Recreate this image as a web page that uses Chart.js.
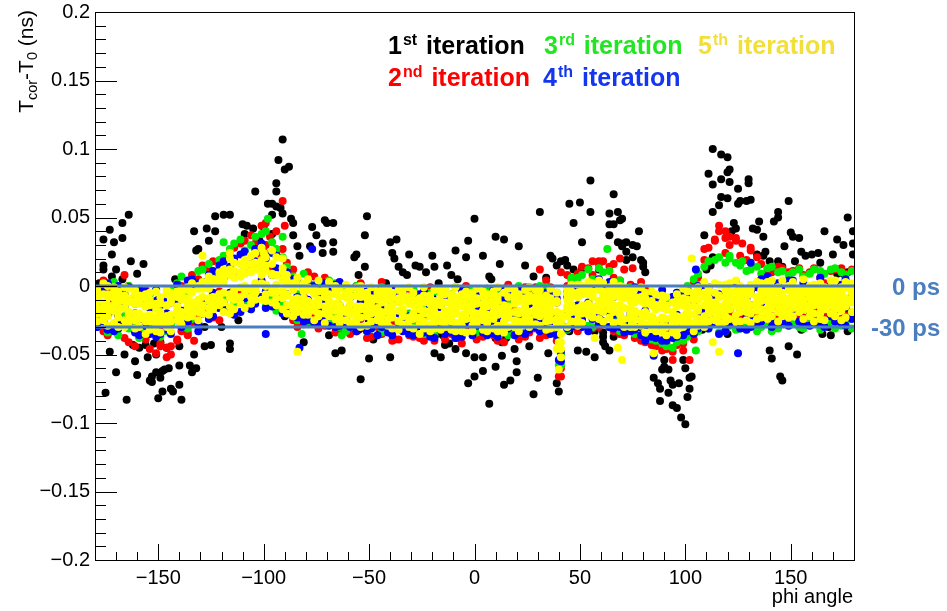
<!DOCTYPE html>
<html>
<head>
<meta charset="utf-8">
<title>Tcor - T0 vs phi</title>
<script src="https://cdn.jsdelivr.net/npm/chart.js@4.4.1/dist/chart.umd.min.js"></script>
<style>
  body { margin: 0; background: #fff; }
  canvas { display: block; }
</style>
</head>
<body>
<canvas id="phiChart" width="947" height="611"></canvas>
<script>
// time offsets are kept in ps, the axis is in ns
const phiBins = [
  -179,-176,-174,-171,-169,-166,-164,-161,-159,-156,-154,-151,
  -149,-146,-144,-141,-139,-136,-134,-131,-129,-126,-124,-121,
  -119,-116,-114,-111,-109,-106,-104,-101,-99,-96,-94,-91,
  -89,-86,-84,-81,-79,-76,-74,-71,-69,-66,-64,-61,
  -59,-56,-54,-51,-49,-46,-44,-41,-39,-36,-34,-31,
  -29,-26,-24,-21,-19,-16,-14,-11,-9,-6,-4,-1,
  1,4,6,9,11,14,16,19,21,24,26,29,
  31,34,36,39,41,44,46,49,51,54,56,59,
  61,64,66,69,71,74,76,79,81,84,86,89,
  91,94,96,99,101,104,106,109,111,114,116,119,
  121,124,126,129,131,134,136,139,141,144,146,149,
  151,154,156,159,161,164,166,169,171,174,176,179
];

// 1st iteration: scattered crystals
const blackPoints = [
  [-94,75],[-104,69],[-98,60],[-96,60],[-92,57],[-91,53],[-96,52],[-164,52],[-167,46],[-173,41],[-176,34],[-171,32],
  [-167,35],[-172,23],[-176,15],[-176,12],[-170,12],[-172,7],[-167,5],[-163,18],[-157,16],[-160,9],[-123,51],[-119,52],
  [-116,52],[-127,42],[-123,40],[-133,40],[-126,33],[-131,27],[-132,26],[-110,45],[-108,44],[-109,38],[-105,42],[-100,43],
  [-102,33],[-96,38],
  [-162,-43],[-159,-45],[-166,-50],[-173,-48],[-161,-55],[-170,-63],[-160,-65],[-175,-78],[-165,-83],[-156,-43],[-152,-42],
  [-155,-52],[-151,-50],[-149,-41],[-146,-45],[-140,-44],[-147,-61],[-148,-62],[-145,-60],[-151,-63],[-153,-66],[-154,-69],
  [-153,-70],[-149,-67],[-148,-77],[-144,-75],[-143,-77],[-140,-72],[-150,-82],[-139,-83],[-133,-50],[-140,-58],[-135,-58],
  [-132,-60],[-134,-63],[-128,-44],[-125,-43],[-116,-42],[-116,-46],
  [-91,107],[-93,92],[-90,85],[-88,87],[-94,69],[-94,58],[-87,49],[-86,46],[-71,48],[-70,46],[-67,46],[-77,43],[-75,37],
  [-86,37],[-72,31],[-67,32],[-67,25],[-72,24],[-84,29],[-83,22],[-78,29],[-51,51],[-52,37],[-56,23],[-57,21],[-52,14],
  [-55,8],[-40,32],[-37,34],[-39,24],[-38,20],[-31,23],[-36,14],[-34,10],[-32,8],[-28,15],[-26,14],[-23,10],[-20,22],
  [-19,14],[-13,15],[-17,2],[-16,-5],
  [-81,-41],[-66,-49],[-63,-47],[-69,-36],[-74,-25],[-54,-68],[-50,-53],[-48,-39],[-55,-32],[-52,-31],[-40,-52],[-38,-39],
  [-19,-49],[-16,-52],[-18,-35],[-15,-36],[-14,-43],[-12,-42],[-50,-26],
  [55,77],[66,67],[45,60],[50,61],[55,54],[64,53],[68,54],[47,46],[64,45],[66,45],[69,48],[70,49],[64,37],[68,32],[70,31],
  [72,32],[70,29],[75,30],[78,40],[72,25],[51,32],[31,54],[21,29],[10,36],[14,34],[0,49],[-3,33],[-9,26],[-4,21],[4,22],
  [12,16],[-11,8],[-8,5],[7,7],[8,5],[24,15],[36,22],[37,20],[39,15],[41,18],[43,19],[44,15],[47,12],[28,7],[34,6],
  [51,13],[59,12],[72,19],[75,21],[77,29],
  [7,-86],[-3,-71],[0,-66],[4,-62],[10,-59],[13,-51],[14,-72],[17,-69],[20,-55],[20,-63],[28,-79],[30,-67],[19,-46],
  [26,-44],[-4,-49],[0,-52],[4,-52],[13,-41],[10,-38],[-9,-46],[-7,-38],[35,-49],[39,-71],[40,-77],[49,-47],[53,-48],
  [57,-52],[64,-47],[57,-33],[61,-34],[61,-37],[61,-41],[62,-44],[66,-37],[71,-34],[19,-32],[31,-32],
  [113,100],[117,96],[120,94],[111,82],[113,74],[117,78],[120,83],[121,85],[121,76],[125,71],[130,78],[130,75],[117,65],
  [120,64],[116,59],[113,54],[125,60],[129,62],[131,63],[126,62],[149,62],[144,54],[144,50],[142,47],[135,47],[123,46],
  [124,42],[122,40],[109,37],[132,42],[134,41],[137,36],[150,39],[151,36],[154,35],[147,29],[166,40],[172,34],[175,30],
  [177,50],[179.5,40],[179.5,31],[179.5,23],[113,21],[110,12],[112,15],[134,23],[137,22],[138,25],[140,18],[144,18],
  [146,14],[152,18],[155,25],[157,22],[160,23],[163,24],[164,17],[170,23],[172,9],[175,9],[177,10],[79,19],[80,17],
  [80,14],[81,10],
  [90,-59],[92,-61],[89,-61],[100,-60],[102,-67],[103,-66],[85,-67],[87,-71],[88,-75],[93,-69],[94,-72],[97,-71],
  [88,-84],[92,-78],[94,-87],[96,-89],[98,-96],[100,-101],[101,-81],[102,-75],[90,-54],[99,-54],[140,-47],[141,-53],
  [145,-66],[146,-69],[149,-44],[153,-50],[163,-28],[165,-35],[168,-26],[169,-36],[177,-33],[177,-19],
  [-178,-20],[-168,-28],[-150,-10],[-128,-30],[-112,-25],[-90,-22],[-75,-28],[-60,-5],[-45,-35],[-30,-25],[-20,-8],
  [-5,-28],[8,-30],[22,-5],[35,-28],[48,-6],[60,-25],[78,-30],[95,-10],[108,-32],[128,-5],[140,-28],[150,-3],[160,-12],
  [168,-30],[175,-15],[179,-8],[-178,2],[-142,5],[-120,-30],[-65,-2],[-42,2],[-10,-35],[15,-38],[45,-33],[85,-40],
  [120,-35],[135,-30],[155,-32]
];

// 2nd iteration
const red1 = [
  -26,4,-36,-12,-31,8,-41,-20,-34,-3,-46,-27,
  -44,-20,-50,-6,-33,-15,-27,5,-20,12,-23,-4,
  20,-16,28,-6,33,-13,16,44,30,-10,25,-17,
  17,-25,4,-28,10,-20,-31,6,-14,-34,2,-23,
  -35,0,-24,-38,-6,-30,3,-22,-40,-8,-28,-2,
  -3,-38,-22,-1,-40,-27,-6,-35,-10,-42,0,-30,
  -39,-12,-2,-36,-25,-41,1,-30,-8,-37,-20,-1,
  -22,-36,-1,-40,-66,-30,5,-33,14,-18,-31,16,
  18,-30,6,-35,12,-22,-38,3,-41,-9,-44,-30,
  -46,-11,-43,-36,-2,-39,6,-28,28,-20,40,35,
  30,-24,22,-6,26,-22,16,-25,10,-21,13,-19,
  11,-22,8,-18,13,-25,2,-20,12,-24,9,-21
];
const red2 = [
  -8,-33,-2,-28,-19,-38,0,-44,-24,-39,-11,-49,
  -31,-45,-12,-39,0,-34,8,-22,15,-14,18,-25,
  -12,24,-3,31,-8,37,-4,22,46,12,-15,27,
  -20,12,-30,-8,-27,7,-3,-29,3,-19,-33,-4,
  -15,-33,2,-20,-37,-12,-35,-3,-26,-39,-4,-36,
  -37,-8,-40,-31,-14,-2,-39,-21,-38,-4,-33,-13,
  -6,-37,-33,-9,-40,-3,-35,-18,-39,-1,-34,-31,
  -38,4,-33,-12,-60,0,-28,9,-24,13,8,-30,
  -28,14,-33,4,-36,1,-8,-40,-3,-43,-12,-47,
  -33,-48,-8,-42,-33,2,-31,19,-30,34,-27,24,
  -20,33,-23,19,-14,21,-26,12,-22,14,-18,10,
  -19,13,-23,10,-16,6,-22,11,-12,13,-20,12
];
const redExtra = [
  [116,44],[119,40],[121,36],[114,33],[124,35],[127,31],[131,28],[109,27],[-91,62],[-90,44],[-94,40],[-97,36],
  [-104,31],[-100,25],[-146,-52],[-144,-44],[-141,-40],[-149,-42],[-136,-36],[-133,-40],[-159,-37],[-175,-33],
  [94,-54],[99,-47],[102,-54],[91,-42],[96,-40],[40,-66],[31,12],[41,10],[44,8],[56,18],[59,18],[69,20],[75,13],[66,16]
];

// 3rd iteration
const green1 = [
  -30,-1,-19,-8,-36,-22,0,-27,-11,-33,-6,-24,
  -37,-9,-28,2,-20,-31,5,-18,12,-22,8,-16,
  22,-16,31,-8,26,-17,36,14,40,-10,27,-13,
  14,-22,-6,9,-26,1,-15,-24,4,-20,-30,-2,
  -30,0,-22,-33,-5,-27,-1,-19,-34,-4,-25,-35,
  -3,-33,-14,-5,-36,-24,-8,-30,-1,-27,-11,-34,
  -34,-6,-26,-35,-2,-29,-12,-33,0,-24,-31,-6,
  -31,-1,-22,-35,-50,-4,-29,6,-27,12,-30,13,
  10,-30,3,-33,-2,-24,-35,-2,-38,-7,-40,-11,
  -44,-8,-41,-3,-37,5,-33,14,-31,19,-34,17,
  20,-32,15,-29,12,-33,9,-28,14,-31,11,-26,
  10,-30,7,-26,12,-32,9,-27,13,-29,8,-31
];
const green2 = [
  -6,-24,-34,3,-12,-2,-31,-13,-38,-9,-29,-3,
  -14,-33,-3,-25,7,-6,-24,11,-19,16,-14,19,
  -9,27,-13,34,-11,30,-4,38,-15,32,-18,21,
  -18,7,-25,-12,3,-28,-1,-9,-27,2,-14,-33,
  -6,-28,-3,-16,-31,-9,-34,-6,-11,-27,-2,-20,
  -29,-8,-35,-22,-4,-31,-19,-6,-33,-9,-28,-3,
  -5,-31,-2,-21,-34,-8,-36,-4,-27,-34,-3,-29,
  0,-28,-34,-5,-58,-32,3,-23,8,-29,5,-25,
  -27,11,-26,4,-32,-1,-8,-36,-5,-39,-15,-42,
  -12,-45,-5,-40,0,-35,9,-30,18,-28,21,-33,
  -29,17,-31,11,-27,14,-30,13,-33,10,-28,8,
  -28,12,-31,9,-25,11,-29,12,-31,10,-27,11
];
const greenExtra = [
  [-98,49],[-91,36],[-119,32],[63,27],[46,6],[-63,-36],[-82,-35],[105,-47],[40,-58],[121,22],[127,18]
];

// 4th iteration
const blue1 = [
  -30,-4,-21,-33,0,-15,-28,-8,-36,-12,-25,-3,
  -35,-9,-24,1,-30,-16,-2,-27,-10,8,-22,6,
  18,-18,9,-12,25,-6,27,-8,20,-15,13,-20,
  10,-21,-8,-26,4,-13,-28,2,-19,-30,3,-24,
  -30,-1,-22,-33,-6,-27,-2,-34,-13,-31,-4,-22,
  -36,-6,-27,-15,-38,-2,-22,-34,-10,-37,-4,-26,
  -5,-34,-18,-3,-37,-9,-31,-24,-2,-35,-13,-30,
  -33,-5,-27,-36,-55,-8,-30,-2,-25,-33,1,-28,
  -26,3,-21,-30,-2,-33,-10,-36,-18,-7,-38,-14,
  -40,-8,-37,-28,-6,-35,-20,-30,-1,-27,-22,-33,
  -28,3,-19,-32,-4,-27,5,-22,-30,2,-26,-11,
  4,-26,-10,-29,-1,-21,-30,3,-18,-27,5,-24
];
const blue2 = [
  -9,-26,2,-18,-31,-6,-11,-34,-2,-29,-16,-37,
  -14,-32,-6,-25,-8,4,-21,2,-19,-13,11,-16,
  -15,14,-21,23,-9,16,-13,31,-4,24,-11,9,
  -18,5,-23,-2,-25,0,-7,-24,-4,-14,-29,-7,
  -8,-26,-3,-18,-31,-11,-30,-9,-36,-6,-26,-35,
  -10,-30,-3,-37,-12,-25,-35,-7,-31,-14,-28,-36,
  -29,-11,-36,-27,-14,-33,-4,-36,-22,-8,-32,-6,
  -10,-29,-4,-21,-48,-31,-6,-27,-3,-12,-24,5,
  0,-19,-31,-6,-27,-9,-32,-4,-29,-37,-12,-40,
  -14,-38,-21,-4,-33,-11,-31,-3,-26,-7,-35,0,
  -5,-24,-31,-9,-22,-1,-26,-8,-14,-27,-3,-29,
  -20,-5,-28,-12,-25,6,-15,-22,-3,-10,-29,-6
];
const blue3 = [
  -19,-14,-32,-5,-22,-27,-1,-20,-24,-4,-35,-11,
  -27,-20,-35,-11,-18,-26,5,-15,3,-24,-5,15,
  6,-5,20,-19,12,-17,18,4,-16,8,22,-6,
  -6,-13,3,-17,-10,-27,-16,-12,-29,1,-15,-28,
  -18,-33,-12,-4,-21,-36,-17,-24,-3,-20,-33,-9,
  -24,-19,-34,-8,-29,-16,-9,-26,-38,-3,-21,-13,
  -17,-26,-7,-35,-24,-2,-19,-11,-34,-27,-1,-23,
  -24,-17,-35,-9,-28,-19,-21,-14,-30,0,-17,-20,
  -15,-30,-8,-22,-34,-20,-1,-24,-40,-23,-27,-3,
  -28,-25,-5,-36,-20,-28,0,-18,-31,-20,-6,-15,
  -17,-12,-2,-23,-30,-14,-13,7,-25,-15,-20,4,
  -9,-17,2,-19,-8,-28,-4,-11,-26,1,-16,-20
];
const blueExtra = [
  [125,-49],[40,-54],[-83,-45],[90,-36],[85,-51],[105,12],[131,17],[-77,27],[-99,-35],[-131,-33]
];

// 5th iteration
const yellow1 = [
  -3,-22,-8,-27,-15,-1,-24,-11,-30,-6,-21,-13,
  -8,-30,-12,-25,-2,-18,-22,0,-14,7,-17,-6,
  12,-15,6,-8,19,-3,24,-10,15,-5,21,-9,
  8,-17,1,-21,-3,-25,4,-15,-22,0,-27,-5,
  -2,-24,-8,-29,-16,-4,-27,-10,-31,-18,-6,-23,
  -5,-28,-12,-33,-19,-3,-30,-14,-8,-25,-34,-10,
  -28,-4,-22,-31,-8,-26,-2,-19,-33,-10,-24,-3,
  -3,-26,-9,-30,-41,-22,1,-25,-6,-21,2,-18,
  2,-23,-4,-26,-1,-20,-30,-8,-28,-11,-33,-7,
  -8,-34,-15,-30,-4,-27,-1,-22,-26,2,-20,-3,
  2,-21,-6,-25,1,-18,-3,-24,4,-14,-22,0,
  3,-19,-2,-22,1,-15,-25,-4,4,-18,-9,2
];
const yellow2 = [
  -20,-6,-29,-14,-4,-25,-9,-31,-13,-26,-10,-33,
  -27,-14,-33,-4,-19,-1,-12,-19,3,-11,-8,10,
  -12,8,-17,16,-6,22,-2,14,-11,26,-4,13,
  -14,2,-19,-9,5,-12,-20,-2,-6,-24,-8,-19,
  -21,-7,-30,-14,-1,-25,-12,-29,-5,-9,-28,-13,
  -24,-9,-31,-7,-27,-21,-2,-26,-33,-6,-15,-29,
  -9,-25,-33,-12,-29,-5,-23,-30,-6,-27,-1,-21,
  -22,-7,-31,-12,-20,-2,-19,-8,-27,3,-15,-3,
  -19,-1,-27,-5,-24,-3,-12,-29,-5,-31,-14,-34,
  -30,-12,-36,-9,-28,-8,-24,-5,-1,-25,-7,-22,
  -17,-4,-26,-2,-20,-8,-23,3,-12,-1,-5,-19,
  -16,-3,-24,-8,-20,2,-11,-20,-13,-1,-23,-12
];
const yellow3 = [
  -11,-17,0,-9,-23,-16,-2,-20,-7,-15,-32,-4,
  -19,-3,-21,-15,-28,-9,2,-10,-20,-2,5,-14,
  3,-20,17,-1,9,-13,12,28,0,9,-14,5,
  1,-10,-12,2,-17,-2,-14,-27,3,-13,-2,-25,
  -13,-19,0,-22,-26,-10,-3,-19,-14,-32,-17,-1,
  -14,-35,-1,-22,-11,-32,-18,-6,-20,-29,-4,-19,
  -20,-13,-6,-24,-1,-34,-15,-7,-18,-3,-30,-12,
  -13,-32,-2,-24,-46,-30,-8,-29,0,-14,-23,4,
  -10,-15,3,-18,-9,-30,-2,-20,-34,-4,-25,-16,
  -17,-27,-6,-22,-14,-33,-10,-30,-16,-12,1,-17,
  -9,-15,0,-13,-27,3,-11,-16,-22,-19,4,-9,
  -6,-12,5,-14,-9,-24,-1,-14,-22,-10,3,-19
];
const yellow4 = [
  -26,2,-18,-4,-9,-30,-19,-6,-24,-35,-14,-24,
  -34,-22,-5,-20,-10,-23,-16,-25,-8,-16,-12,3,
  -19,20,-6,7,-16,11,-10,2,21,-12,8,-17,
  -20,-22,6,-16,-11,-18,-4,-8,-15,-5,-18,1,
  -27,-1,-17,-5,-9,-20,-22,-2,-23,-3,-11,-30,
  -31,-17,-20,-13,-3,-12,-25,-32,-1,-15,-24,-5,
  -2,-32,-15,-4,-21,-14,-30,-11,-26,-20,-11,-28,
  -29,-15,-20,-5,-27,-10,-26,1,-17,-6,-8,-24,
  -26,-9,-14,0,-30,-11,-24,-1,-13,-24,-6,-29,
  -36,-19,-26,-2,-22,-15,-18,3,-9,-20,-27,-8,
  -24,4,-14,-19,-6,-24,2,-6,-2,-26,-15,-23,
  -22,-2,-10,0,-26,-7,-17,4,-6,-25,-15,-5
];
const yellow5 = [
  -16,-12,-22,-1,-19,-8,-12,-25,-20,-9,-26,-17,
  -13,-25,-9,-8,-23,-13,-5,-14,-2,-21,2,-9,
  -5,12,-10,10,14,-8,17,8,-6,16,1,-4,
  -7,-12,-15,-4,-21,-6,-10,-20,-11,-18,-14,-8,
  -18,-15,-4,-19,-20,-16,-8,-24,-19,-12,-22,-25,
  -20,-13,-26,-18,-31,-7,-12,-22,-27,-11,-20,-33,
  -13,-20,-27,-9,-16,-30,-8,-25,-11,-15,-26,-8,
  -18,-21,-14,-19,-35,-17,-4,-16,-20,-2,-19,-13,
  -14,-17,-19,-8,-16,-6,-20,-11,-22,-14,-29,-24,
  -24,-23,-11,-14,-25,-5,-29,-14,-20,-5,-15,-26,
  -13,-10,-19,-6,-14,-15,-17,-1,-7,-10,-18,-3,
  -11,-8,-17,-4,-14,-11,-5,-9,-17,-5,-12,-1
];
const yellow6 = [
  -6,-25,-14,-18,-30,-11,-27,-3,-11,-22,-5,-28,
  -24,-6,-26,-19,-6,-3,-20,-2,-15,4,-15,6,
  8,-8,11,-13,-2,16,-5,19,11,-3,-9,10,
  4,-3,-9,-13,-1,-14,-22,-6,-19,-2,-23,-17,
  -7,-28,-23,-9,-10,-6,-19,-6,-9,-26,-3,-8,
  -10,-23,-7,-28,-15,-26,-6,-18,-12,-33,-8,-14,
  -24,-8,-11,-19,-33,-21,-19,-3,-29,-24,-7,-17,
  -8,-10,-25,-27,-52,-6,-14,-20,-3,-17,-4,-1,
  -4,-5,-8,-21,-5,-24,-8,-25,-9,-27,-17,-12,
  -14,-29,-31,-27,-10,-21,-5,-26,-4,-17,-22,1,
  -4,-26,-9,-17,-2,-12,-5,-20,-16,-4,-11,-14,
  -1,-15,-5,-18,-3,-20,-13,-1,-10,-14,-1,-9
];
const yellow7 = [
  -9,-16,-6,-18,-11,-7,-21,-13,-22,-14,-12,-23,
  -12,-22,-10,-18,-7,-15,-4,-11,0,-9,2,-6,
  5,-6,-3,7,0,10,2,12,1,8,-5,4,
  -6,1,-10,-2,-12,-4,-13,-5,-16,-6,-15,-8,
  -8,-17,-15,-7,-12,-19,-10,-16,-20,-11,-19,-12,
  -21,-11,-18,-10,-23,-14,-22,-10,-17,-21,-13,-24,
  -12,-18,-21,-14,-11,-19,-22,-13,-20,-9,-19,-10,
  -10,-19,-18,-11,-24,-15,-17,-5,-14,-13,-7,-11,
  -7,-13,-3,-14,-8,-16,-18,-9,-19,-22,-14,-23,
  -17,-25,-22,-13,-19,-10,-16,-8,-12,-15,-8,-13,
  -7,-13,-4,-11,-6,-13,-9,-11,-5,-12,-8,-10,
  -10,-4,-12,-9,-5,-3,-8,-11,-2,-7,-10,-5
];
const yellowExtra = [
  [40,-41],[40,-61],[39,-46],[-84,-48],[113,-41],[116,-48],[103,20],[85,-49],[-116,24],[-129,22],[57,-38],
  [70,-54],[68,-45],[-100,24],[-91,20]
];

// reference levels and their labels, in ps
const refLevels = [0, -30];
const refLabels = ['0 ps', '-30 ps'];

const xTickValues = [-150, -100, -50, 0, 50, 100, 150];
const yTickValues = [-0.2, -0.15, -0.1, -0.05, 0, 0.05, 0.1, 0.15, 0.2];

const iterNumbers = ['1', '2', '3', '4', '5'];
const iterSuffix = ['st', 'nd', 'rd', 'th', 'th'];
const iterColors = ['#000000', '#ff0000', '#00ee00', '#0000ff', '#ffff00'];
const legendTextColors = ['#000000', '#ff0000', '#22e622', '#1436ee', '#f3df3a'];

const FONT = '"Liberation Sans", Arial, Helvetica, sans-serif';
const REF_BLUE = '#4a7ebf';

function binPoints(values) {
  return phiBins.map((x, i) => ({ x: x, y: values[i] / 1000 })).filter(p => !isNaN(p.y));
}
function pairPoints(pairs) {
  return pairs.map(p => ({ x: p[0], y: p[1] / 1000 }));
}
function fmt(v) {
  return String(Math.round(v * 1000) / 1000).replace('-', '\u2212');
}

const iterationData = [
  pairPoints(blackPoints),
  [red1, red2].flatMap(binPoints).concat(pairPoints(redExtra)),
  [green1, green2].flatMap(binPoints).concat(pairPoints(greenExtra)),
  [blue1, blue2, blue3].flatMap(binPoints).concat(pairPoints(blueExtra)),
  [yellow1, yellow2, yellow3, yellow4, yellow5, yellow6, yellow7].flatMap(binPoints).concat(pairPoints(yellowExtra))
];

const datasets = [];
refLevels.forEach((ps, i) => {
  datasets.push({
    label: refLabels[i],
    type: 'line',
    data: [{ x: -180, y: ps / 1000 }, { x: 180, y: ps / 1000 }],
    borderColor: REF_BLUE,
    borderWidth: 3,
    pointRadius: 0,
    showLine: true,
    order: 0
  });
});
iterationData.forEach((pts, i) => {
  datasets.push({
    label: iterNumbers[i] + iterSuffix[i] + ' iteration',
    data: pts,
    backgroundColor: iterColors[i],
    borderWidth: 0,
    pointRadius: 4,
    pointHoverRadius: 4,
    order: 5 - i
  });
});

// ROOT-like frame, inner ticks, axis titles and text annotations
const decorations = {
  id: 'decorations',
  afterDraw(chart) {
    const ctx = chart.ctx;
    const a = chart.chartArea;
    const xs = chart.scales.x;
    const ys = chart.scales.y;
    ctx.save();

    // frame
    ctx.strokeStyle = '#000';
    ctx.lineWidth = 1;
    ctx.strokeRect(Math.round(a.left) + 0.5, Math.round(a.top) + 0.5,
                   Math.round(a.right - a.left), Math.round(a.bottom - a.top));

    // y ticks: major 0.05, minor 0.01
    ctx.beginPath();
    for (let k = -20; k <= 20; k++) {
      const py = Math.round(ys.getPixelForValue(k / 100)) + 0.5;
      const len = (k % 5 === 0) ? 22 : 11;
      ctx.moveTo(a.left, py);
      ctx.lineTo(a.left + len, py);
    }
    // x ticks: major 50, minor 10
    for (let k = -18; k <= 18; k++) {
      const px = Math.round(xs.getPixelForValue(k * 10)) + 0.5;
      const len = (k % 5 === 0) ? 16 : 8;
      ctx.moveTo(px, a.bottom);
      ctx.lineTo(px, a.bottom - len);
    }
    ctx.stroke();

    // x title
    ctx.fillStyle = '#000';
    ctx.font = '20px ' + FONT;
    ctx.textAlign = 'right';
    ctx.textBaseline = 'alphabetic';
    ctx.fillText('phi angle', a.right - 1, 603);

    // y title: T_cor-T_0 (ns), rotated
    const parts = [
      ['T', 21, 0], ['cor', 14.5, 4], ['-T', 21, 0], ['0', 14.5, 4], [' (ns)', 21, 0]
    ];
    ctx.textAlign = 'left';
    let w = 0;
    parts.forEach(p => { ctx.font = p[1] + 'px ' + FONT; w += ctx.measureText(p[0]).width; });
    ctx.translate(33, 10 + w);
    ctx.rotate(-Math.PI / 2);
    let tx = 0;
    parts.forEach(p => {
      ctx.font = p[1] + 'px ' + FONT;
      ctx.fillText(p[0], tx, p[2]);
      tx += ctx.measureText(p[0]).width;
    });
    ctx.setTransform(1, 0, 0, 1, 0, 0);

    // iteration legend
    const legendX = [388, 388, 544, 543, 698];
    const legendY = [54, 86, 54, 86, 54];
    iterNumbers.forEach((n, i) => {
      let x = legendX[i];
      const y = legendY[i];
      ctx.fillStyle = legendTextColors[i];
      ctx.font = 'bold 25px ' + FONT;
      ctx.fillText(n, x, y);
      x += ctx.measureText(n).width + 1;
      ctx.font = 'bold 16px ' + FONT;
      ctx.fillText(iterSuffix[i], x, y - 9);
      x += ctx.measureText(iterSuffix[i]).width + 2;
      ctx.font = 'bold 25px ' + FONT;
      ctx.fillText(' iteration', x, y);
    });

    // reference level labels
    const labelX = [892, 871];
    ctx.fillStyle = REF_BLUE;
    ctx.font = 'bold 24px ' + FONT;
    refLevels.forEach((ps, i) => {
      const py = ys.getPixelForValue(ps / 1000);
      ctx.fillText(refLabels[i], labelX[i], py + 9);
    });

    ctx.restore();
  }
};

const ctx = document.getElementById('phiChart').getContext('2d');
const chart = new Chart(ctx, {
  type: 'scatter',
  data: { datasets: datasets },
  options: {
    responsive: false,
    animation: false,
    devicePixelRatio: 1,
    layout: { padding: { left: 0, top: 12, right: 93, bottom: 0 } },
    plugins: {
      legend: { display: false },
      title: { display: false },
      tooltip: { enabled: false }
    },
    scales: {
      x: {
        type: 'linear',
        min: -180,
        max: 180,
        grid: { display: false, drawTicks: false },
        border: { display: false },
        afterBuildTicks: s => { s.ticks = xTickValues.map(v => ({ value: v })); },
        afterFit: s => { s.height = 51; s.paddingLeft = 0; s.paddingRight = 0; },
        ticks: {
          padding: 6,
          maxRotation: 0,
          autoSkip: false,
          color: '#000',
          font: { family: FONT, size: 20 },
          callback: v => fmt(v)
        }
      },
      y: {
        type: 'linear',
        min: -0.2,
        max: 0.2,
        grid: { display: false, drawTicks: false },
        border: { display: false },
        afterBuildTicks: s => { s.ticks = yTickValues.map(v => ({ value: v })); },
        afterFit: s => { s.width = 95; s.paddingTop = 0; s.paddingBottom = 0; },
        ticks: {
          padding: 5,
          autoSkip: false,
          color: '#000',
          font: { family: FONT, size: 20 },
          callback: v => fmt(v)
        }
      }
    }
  },
  plugins: [decorations]
});
</script>
</body>
</html>
